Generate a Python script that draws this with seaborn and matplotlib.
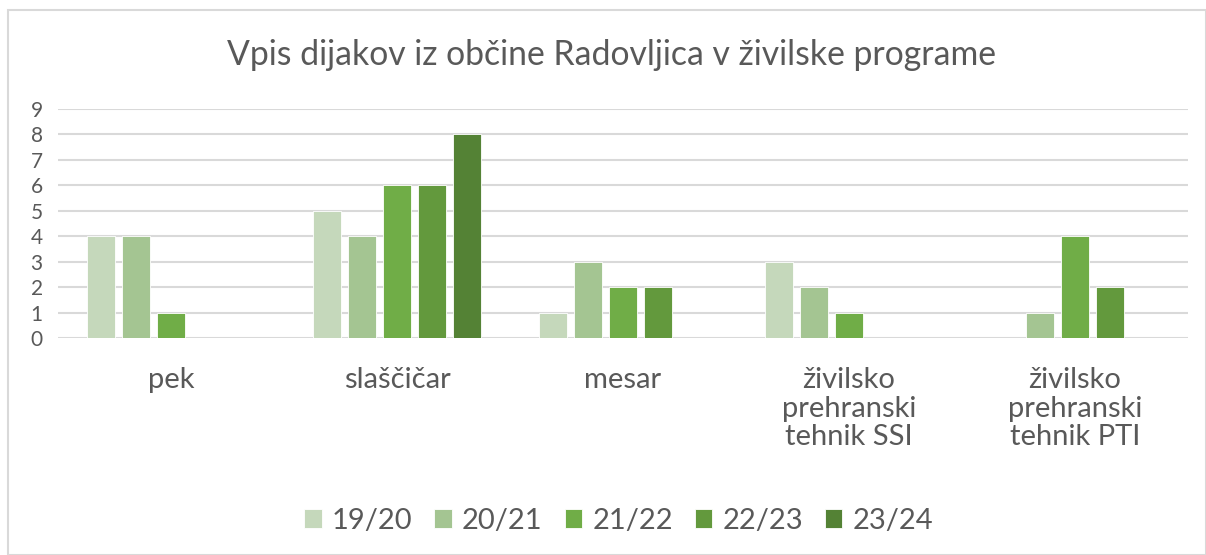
import pandas as pd
import matplotlib.pyplot as plt
import seaborn as sns
from matplotlib.patches import Rectangle

# data
programs = ["pek", "slaščičar", "mesar",
            "živilsko\nprehranski\ntehnik SSI",
            "živilsko\nprehranski\ntehnik PTI"]
years = ["19/20", "20/21", "21/22", "22/23", "23/24"]
y1920 = [4, 5, 1, 3, 0]
y2021 = [4, 4, 3, 2, 1]
y2122 = [1, 6, 2, 1, 4]
y2223 = [0, 6, 2, 0, 2]
y2324 = [0, 8, 0, 0, 0]
colors = ["#C5D8BB", "#A4C592", "#70AD47", "#63993D", "#548235"]

rows = []
for year, vals in zip(years, [y1920, y2021, y2122, y2223, y2324]):
    for prog, v in zip(programs, vals):
        rows.append({"program": prog, "year": year, "count": v})
df = pd.DataFrame(rows)

sns.set_style("white")
plt.rcParams['font.family'] = ['Lato', 'DejaVu Sans']
text_col = "#595959"

fig = plt.figure(figsize=(12.06, 5.55), dpi=100)
fig.patches.append(Rectangle((8 / 1206, 0), 1 - 8 / 1206, 1 - 10 / 555,
                             transform=fig.transFigure, fill=False,
                             edgecolor="#D9D9D9", linewidth=1.5))
ax = fig.add_axes([58 / 1206, 1 - 338 / 555, 1130 / 1206, 229 / 555])

sns.barplot(data=df, x="program", y="count", hue="year", palette=colors,
            saturation=1, width=0.77, gap=0.2, ax=ax, legend=True,
            edgecolor="white", linewidth=0.6)

ax.set_ylim(0, 9)
ax.set_yticks(range(10))
ax.grid(axis="y", color="#D9D9D9", linewidth=1.5)
ax.set_axisbelow(True)
for s in ax.spines.values():
    s.set_visible(False)
ax.set_xlabel("")
ax.set_ylabel("")
ax.tick_params(axis="y", labelsize=15, colors=text_col, length=0, pad=11)
ax.tick_params(axis="x", labelsize=21, colors=text_col, length=0, pad=21)
for lab in ax.get_xticklabels():
    lab.set_linespacing(1.12)

fig.text(0.507, 1 - 55 / 555, "Vpis dijakov iz občine Radovljica v živilske programe",
         ha="center", va="center", fontsize=24.3, color=text_col)

handles, labels = ax.get_legend_handles_labels()
ax.legend_.remove()
fig.legend(handles, labels, loc="center", bbox_to_anchor=(0.513, 1 - 521 / 555),
           ncol=5, frameon=False, fontsize=21, labelcolor=text_col,
           handlelength=0.6, handleheight=0.6, handletextpad=0.35,
           columnspacing=0.75)

fig.savefig("out.png", dpi=100)
